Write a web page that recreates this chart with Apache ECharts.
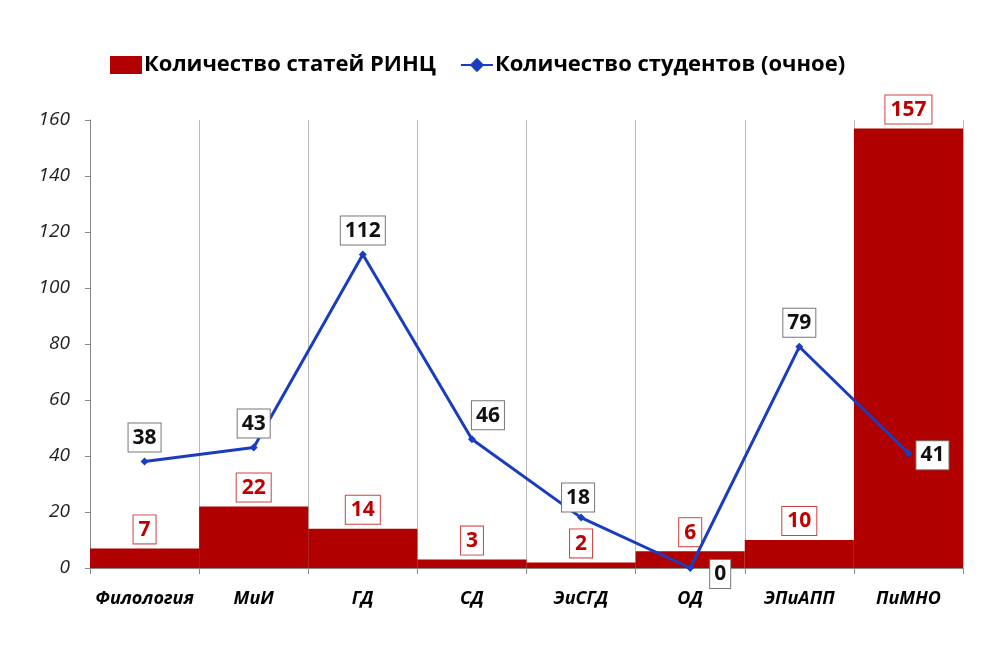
<!DOCTYPE html>
<html>
<head>
<meta charset="utf-8">
<script src="https://cdn.jsdelivr.net/npm/echarts@6/dist/echarts.min.js"></script>
<style>
  html, body { margin: 0; padding: 0; background: #fff; }
  #chart { width: 1003px; height: 649px; }
</style>
</head>
<body>
<div id="chart"></div>
<script>
  // data
  const categories = ['Филология', 'МиИ', 'ГД', 'СД', 'ЭиСГД', 'ОД', 'ЭПиАПП', 'ПиМНО']
  const articles = [7, 22, 14, 3, 2, 6, 10, 157]
  const students = [38, 43, 112, 46, 18, 0, 79, 41]
  const yTicks = [0, 20, 40, 60, 80, 100, 120, 140, 160]

  const font = '"Open Sans", "Noto Sans", sans-serif'

  // where each student label sits relative to its point
  const lineLabelPlace = [
    {position: 'top'},
    {position: 'top'},
    {position: 'top'},
    {position: 'top', offset: [16, 0]},
    {position: 'top', offset: [-3, 4]},
    {position: 'right', offset: [10, 6]},
    {position: 'top'},
    {position: 'right', offset: [-2, 2]}
  ]

  const chart = echarts.init(document.getElementById('chart'))
  chart.setOption({
    animation: false,
    backgroundColor: '#fff',
    legend: {
      top: 49,
      left: 105,
      itemGap: 24,
      itemWidth: 32,
      itemHeight: 18,
      textStyle: {fontFamily: font, fontWeight: 'bold', fontSize: 22, color: '#000', padding: [0, 0, 0, -3]},
      data: [
        {name: 'Количество статей РИНЦ', icon: 'rect'},
        {name: 'Количество студентов (очное)'}
      ]
    },
    grid: {left: 90, right: 40, top: 120, bottom: 81},
    xAxis: {
      type: 'category',
      data: categories,
      boundaryGap: true,
      axisLine: {lineStyle: {color: '#888'}},
      axisTick: {show: true, interval: 0, length: 6, lineStyle: {color: '#888'}},
      axisLabel: {
        interval: 0,
        margin: 22,
        fontFamily: font, fontStyle: 'italic', fontWeight: 'bold',
        fontSize: 18, color: '#000'
      },
      splitLine: {show: true, interval: 0, lineStyle: {color: '#bbb'}}
    },
    yAxis: {
      type: 'value',
      min: yTicks[0],
      max: yTicks[yTicks.length - 1],
      interval: 20,
      axisLine: {show: true, lineStyle: {color: '#888'}},
      axisTick: {show: true, length: 5, lineStyle: {color: '#888'}},
      axisLabel: {
        margin: 20,
        fontFamily: font, fontStyle: 'italic', fontSize: 19, color: '#222'
      },
      splitLine: {show: false}
    },
    series: [
      {
        name: 'Количество статей РИНЦ',
        type: 'bar',
        barCategoryGap: 0,
        barGap: 0,
        itemStyle: {color: '#b00000'},
        label: {
          show: true,
          position: 'top',
          distance: 5,
          fontFamily: font, fontWeight: 'bold', fontSize: 21, color: '#c00000',
          backgroundColor: '#fff',
          borderColor: '#d04040', borderWidth: 1,
          padding: [4, 5, 3, 5]
        },
        data: articles,
        z: 2
      },
      {
        name: 'Количество студентов (очное)',
        type: 'line',
        symbol: 'diamond',
        symbolSize: 8,
        lineStyle: {color: '#1a3cc0', width: 3},
        itemStyle: {color: '#1a3cc0'},
        label: {
          show: true,
          distance: 6,
          fontFamily: font, fontWeight: 'bold', fontSize: 21, color: '#111',
          backgroundColor: '#fff',
          borderColor: '#777', borderWidth: 1,
          padding: [4, 4, 3, 4]
        },
        data: students.map((v, i) => ({value: v, label: lineLabelPlace[i]})),
        z: 5
      }
    ]
  })
</script>
</body>
</html>
